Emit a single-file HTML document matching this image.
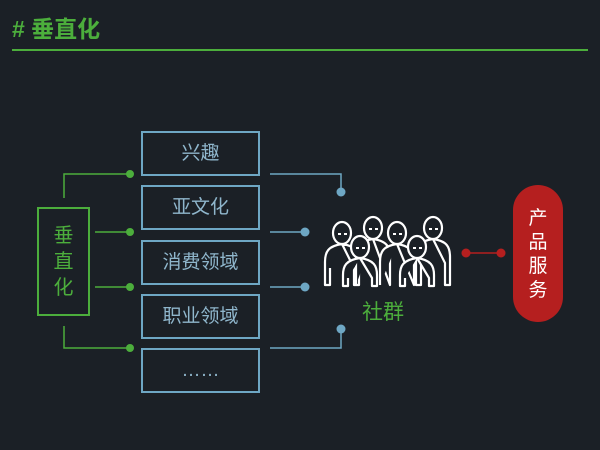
<!DOCTYPE html>
<html><head><meta charset="utf-8"><style>
html,body{margin:0;padding:0;background:#1b2026;}
body{width:600px;height:450px;position:relative;overflow:hidden;font-family:"Liberation Sans","Noto Sans CJK SC",sans-serif;}
.t{position:absolute;left:12px;top:10px;color:#4cae3c;font-size:23px;font-weight:bold;}
.hl{position:absolute;left:12px;top:49px;width:576px;height:2px;background:#4cae3c;}
.b{position:absolute;left:141px;width:115px;height:41px;border:2px solid #6ea7c4;color:#8fb6cc;font-size:19px;text-align:center;line-height:41px;}
.g{position:absolute;left:37px;top:207px;width:49px;height:105px;border:2px solid #4cae3c;color:#4cae3c;font-size:20px;text-align:center;line-height:26px;padding-top:0;}
.p{position:absolute;left:513px;top:185px;width:50px;height:137px;border-radius:25px;background:#b51f1f;color:#fff;font-size:19px;text-align:center;line-height:24px;box-sizing:border-box;padding-top:22px;}
.s{position:absolute;left:362px;top:296px;color:#4cae3c;font-size:21px;}
</style></head><body>
<div class="t"># 垂直化</div>
<div class="hl"></div>
<div class="b" style="top:131px">兴趣</div>
<div class="b" style="top:185px">亚文化</div>
<div class="b" style="top:240px">消费领域</div>
<div class="b" style="top:294px">职业领域</div>
<div class="b" style="top:348px">……</div>
<div class="g"><div style="padding-top:14px">垂<br>直<br>化</div></div>
<div class="p">产<br>品<br>服<br>务</div>
<div class="s">社群</div>
<svg width="600" height="450" style="position:absolute;left:0;top:0">
<g stroke="#4cae3c" stroke-width="1.5" fill="none">
<path d="M64 198 V174 H130"/><path d="M95 232 H130"/><path d="M95 287 H130"/><path d="M64 326 V348 H130"/>
</g>
<g fill="#4cae3c"><circle cx="130" cy="174" r="4"/><circle cx="130" cy="232" r="4"/><circle cx="130" cy="287" r="4"/><circle cx="130" cy="348" r="4"/></g>
<g stroke="#6ea7c4" stroke-width="1.5" fill="none">
<path d="M270 174 H341 V192"/><path d="M270 232 H305"/><path d="M270 287 H305"/><path d="M270 348 H341 V329"/>
</g>
<g fill="#6ea7c4"><circle cx="341" cy="192" r="4.5"/><circle cx="305" cy="232" r="4.5"/><circle cx="305" cy="287" r="4.5"/><circle cx="341" cy="329" r="4.5"/></g>
<path d="M466 253 H501" stroke="#b51f1f" stroke-width="1.5"/>
<circle cx="466" cy="253" r="4.5" fill="#b51f1f"/><circle cx="501" cy="253" r="4.5" fill="#b51f1f"/>
<g stroke="#fff" stroke-width="2.2" fill="#1b2026" stroke-linejoin="round">
<g id="f1">
<path d="M342 244 C328 246 325 252 325 262 L325 285 L330 285 L330 268 M354 268 L354 285 L359 285 L359 262 C359 252 356 246 342 244Z"/>
<ellipse cx="342" cy="233" rx="9" ry="11"/>
</g>
<path d="M433 239 C419 241 416 247 416 257 L416 285 L421 285 L421 263 M445 263 L445 285 L450 285 L450 257 C450 247 447 241 433 239Z"/>
<ellipse cx="433" cy="228" rx="9" ry="11"/>
<path d="M373 239 C359 241 356 247 356 257 L356 285 M390 285 L390 257 C390 247 387 241 373 239Z"/>
<ellipse cx="373" cy="228" rx="9" ry="11"/>
<path d="M397 244 C383 246 380 252 380 262 L380 285 M414 285 L414 262 C414 252 411 246 397 244Z"/>
<ellipse cx="397" cy="233" rx="9" ry="11"/>
<path d="M360 258 C346 260 343 266 343 275 L343 286 L348 286 L348 278 M372 278 L372 286 L377 286 L377 275 C377 266 374 260 360 258Z"/>
<ellipse cx="360" cy="247" rx="9" ry="11"/>
<path d="M417 258 C403 260 400 266 400 275 L400 286 L405 286 L405 278 M429 278 L429 286 L434 286 L434 275 C434 266 431 260 417 258Z"/>
<ellipse cx="417" cy="247" rx="9" ry="11"/>
</g>
<g fill="#fff">
<rect x="338" y="233" width="3" height="2"/><rect x="344" y="233" width="3" height="2"/>
<rect x="369" y="228" width="3" height="2"/><rect x="375" y="228" width="3" height="2"/>
<rect x="393" y="233" width="3" height="2"/><rect x="399" y="233" width="3" height="2"/>
<rect x="429" y="228" width="3" height="2"/><rect x="435" y="228" width="3" height="2"/>
<rect x="356" y="247" width="3" height="2"/><rect x="362" y="247" width="3" height="2"/>
<rect x="413" y="247" width="3" height="2"/><rect x="419" y="247" width="3" height="2"/>
</g>
</svg>
</body></html>
